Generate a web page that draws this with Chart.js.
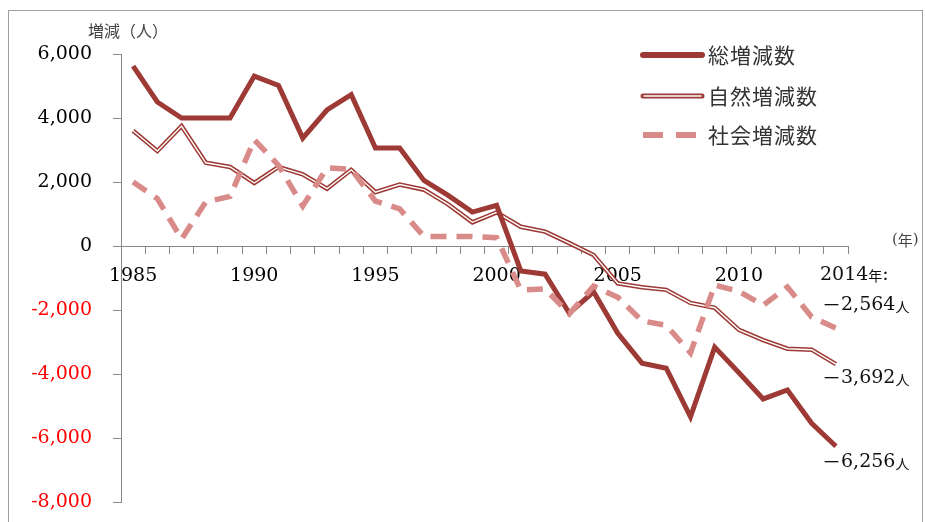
<!DOCTYPE html>
<html>
<head>
<meta charset="utf-8">
<script src="https://cdn.jsdelivr.net/npm/chart.js@4/dist/chart.umd.min.js"></script>
<style>
  html, body { margin: 0; padding: 0; background: #fff; }
  #wrap { width: 925px; height: 522px; }
</style>
</head>
<body>
<div id="wrap"><canvas id="popChart" width="925" height="522"></canvas></div>
<script>
// 年
const years = [1985, 1986, 1987, 1988, 1989, 1990, 1991, 1992, 1993, 1994,
               1995, 1996, 1997, 1998, 1999, 2000, 2001, 2002, 2003, 2004,
               2005, 2006, 2007, 2008, 2009, 2010, 2011, 2012, 2013, 2014];

// 総増減数
const totalChange = [5620, 4500, 4000, 4000, 4000, 5310, 5020, 3370, 4250, 4730,
                     3060, 3060, 2050, 1580, 1060, 1270, -780, -880, -2100, -1430,
                     -2730, -3660, -3820, -5340, -3160, -3960, -4780, -4500, -5540, -6256];

// 自然増減数
const naturalChange = [3600, 2970, 3750, 2600, 2470, 1970, 2470, 2240, 1790, 2380,
                       1680, 1920, 1760, 1300, 740, 1050, 600, 450, 90, -280,
                       -1170, -1290, -1370, -1780, -1930, -2620, -2940, -3210, -3240, -3692];

// 社会増減数
const socialChange = [2000, 1480, 220, 1380, 1550, 3320, 2520, 1250, 2440, 2400,
                      1400, 1160, 300, 300, 300, 260, -1380, -1340, -2120, -1250,
                      -1600, -2340, -2480, -3340, -1220, -1420, -1850, -1280, -2220, -2564];

const yTicks = [6000, 4000, 2000, 0, -2000, -4000, -6000, -8000];

const seriesNames = ['総増減数', '自然増減数', '社会増減数'];
const endNotes = ['－2,564', '－3,692', '－6,256'];

const darkRed = '#9d3a35';
const pink = '#d98b89';
const serif = "'DejaVu Serif', serif";
const jp = "'Noto Sans CJK JP', sans-serif";

function drawParts(ctx, x, y, parts) {
    ctx.textBaseline = 'middle';
    ctx.textAlign = 'left';
    parts.forEach(function(p) {
        ctx.font = p[1];
        ctx.fillStyle = p[2] || '#111';
        ctx.fillText(p[0], x, y + (p[3] || 0));
        x += ctx.measureText(p[0]).width;
    });
}

const decor = {
    id: 'decor',
    beforeDraw(chart) {
        const ctx = chart.ctx;
        ctx.save();
        ctx.strokeStyle = '#a0a0a0';
        ctx.lineWidth = 1;
        ctx.strokeRect(8.5, 10.5, 914, 600);
        ctx.restore();
    },
    afterDraw(chart) {
        const ctx = chart.ctx;
        ctx.save();

        // axis titles
        ctx.fillStyle = '#444';
        ctx.font = '16px ' + jp;
        ctx.textBaseline = 'middle';
        ctx.fillText('増減（人）', 88, 31);
        drawParts(ctx, 892, 240, [['(', '15px ' + serif, '#444'], ['年', '15px ' + jp, '#444'], [')', '15px ' + serif, '#444']]);

        // legend
        const lx0 = 643, lx1 = 702, rows = [55, 96, 135];
        ctx.lineCap = 'round';
        ctx.strokeStyle = darkRed;
        ctx.lineWidth = 6;
        ctx.beginPath(); ctx.moveTo(lx0, rows[0]); ctx.lineTo(lx1, rows[0]); ctx.stroke();
        ctx.lineWidth = 5;
        ctx.beginPath(); ctx.moveTo(lx0, rows[1]); ctx.lineTo(lx1, rows[1]); ctx.stroke();
        ctx.strokeStyle = '#fff';
        ctx.lineWidth = 1.5;
        ctx.beginPath(); ctx.moveTo(lx0 + 1, rows[1]); ctx.lineTo(lx1 - 1, rows[1]); ctx.stroke();
        ctx.lineCap = 'butt';
        ctx.strokeStyle = pink;
        ctx.lineWidth = 6;
        ctx.setLineDash([20, 13]);
        ctx.beginPath(); ctx.moveTo(lx0, rows[2]); ctx.lineTo(lx1 + 1, rows[2]); ctx.stroke();
        ctx.setLineDash([]);

        ctx.fillStyle = '#333';
        ctx.font = '21px ' + jp;
        ctx.letterSpacing = '1px';
        seriesNames.forEach(function(name, i) {
            ctx.fillText(name, 708, rows[i]);
        });
        ctx.letterSpacing = '0px';

        // 2014 notes
        drawParts(ctx, 820, 275, [['2014', '19px ' + serif], ['年', '14px ' + jp, '#111', 1], [':', '19px ' + serif]]);
        const noteY = [305, 378, 462];
        endNotes.forEach(function(t, i) {
            drawParts(ctx, 822, noteY[i], [[t.charAt(0), '19px ' + jp], [t.slice(1), '19px ' + serif], ['人', '14px ' + jp, '#111', 2]]);
        });
        ctx.restore();
    }
};

const ctx = document.getElementById('popChart').getContext('2d');
new Chart(ctx, {
    type: 'line',
    data: {
        labels: years,
        datasets: [{
            label: seriesNames[2],
            data: socialChange,
            borderColor: pink,
            borderWidth: 5.5,
            borderDash: [16, 10],
            pointRadius: 0,
            tension: 0,
            fill: false
        }, {
            label: seriesNames[0],
            data: totalChange,
            borderColor: darkRed,
            borderWidth: 5,
            pointRadius: 0,
            tension: 0,
            fill: false
        }, {
            label: seriesNames[1] + ' inner',
            data: naturalChange,
            borderColor: '#ffffff',
            borderWidth: 1.4,
            pointRadius: 0,
            tension: 0,
            fill: false
        }, {
            label: seriesNames[1],
            data: naturalChange,
            borderColor: darkRed,
            borderWidth: 4.5,
            pointRadius: 0,
            tension: 0,
            fill: false
        }]
    },
    options: {
        responsive: false,
        animation: false,
        layout: { padding: { left: 0, right: 77, top: 54, bottom: 20 } },
        plugins: {
            legend: { display: false },
            tooltip: { enabled: false }
        },
        scales: {
            x: {
                type: 'category',
                position: { y: 0 },
                offset: true,
                grid: { drawOnChartArea: false, drawTicks: true, tickLength: 7, color: '#888', offset: true },
                border: { display: true, color: '#888', width: 1 },
                ticks: {
                    autoSkip: false,
                    maxRotation: 0,
                    padding: 12,
                    color: '#000',
                    font: { family: serif, size: 19 },
                    callback: function(value, index) {
                        const yr = years[index];
                        return (yr % 5 === 0) ? String(yr) : '';
                    }
                }
            },
            y: {
                min: -8000,
                max: 6000,
                afterFit: function(scale) {
                    scale.width = 121;
                    scale.paddingTop = 12;
                    scale.paddingBottom = 12;
                },
                afterBuildTicks: function(scale) {
                    scale.ticks = yTicks.map(function(v) { return { value: v }; });
                },
                grid: { drawOnChartArea: false, drawTicks: true, tickLength: 8, color: '#888' },
                border: { display: true, color: '#888', width: 1 },
                ticks: {
                    padding: 21,
                    font: { family: serif, size: 19 },
                    color: function(c) { return c.tick && c.tick.value < 0 ? '#ff0000' : '#000'; },
                    callback: function(v) { return Number(v).toLocaleString('en-US'); }
                }
            }
        }
    },
    plugins: [decor]
});
</script>
</body>
</html>
